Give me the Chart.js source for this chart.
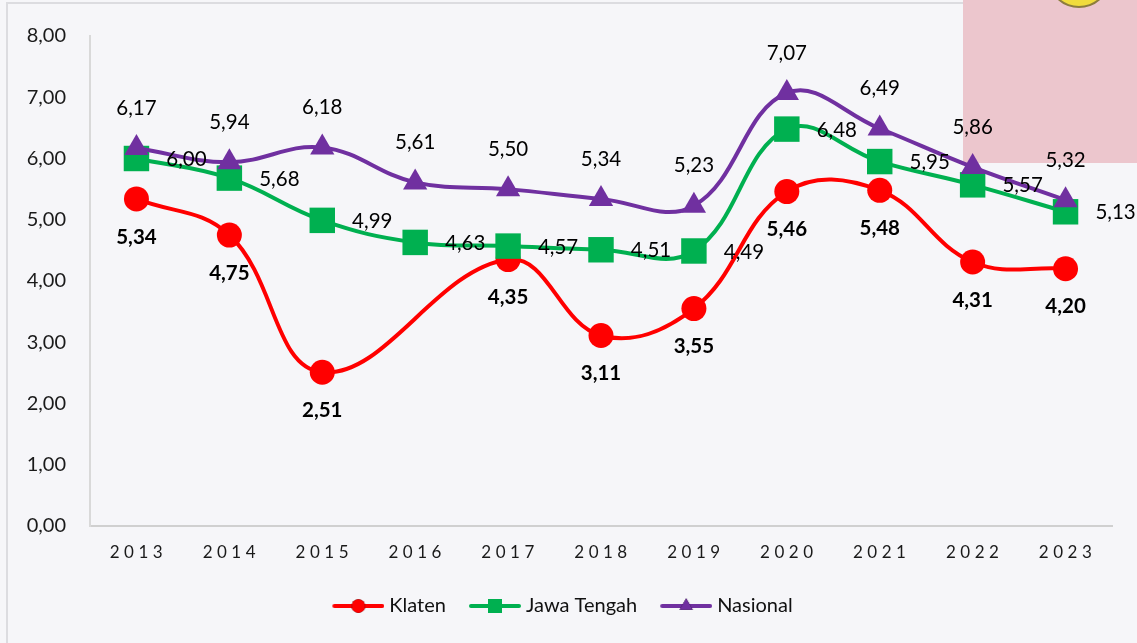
<!DOCTYPE html>
<html>
<head>
<meta charset="utf-8">
<script src="https://cdn.jsdelivr.net/npm/chart.js@4.4.1/dist/chart.umd.min.js"></script>
<style>
  html, body { margin: 0; padding: 0; background: #f6f6f9; }
  #wrap { position: relative; width: 1137px; height: 643px; overflow: hidden; }
  #frame { position: absolute; left: 6px; top: 2px; width: 1140px; height: 650px; border: 2px solid #dcdce0; }
  #pink { position: absolute; left: 963px; top: 0; width: 174px; height: 163px; background: #ecc6cd; }
  #emblem { position: absolute; left: 1050px; top: -44px; width: 54px; height: 48px; border-radius: 50%;
            background: #f0dc3c; border: 2px solid #8c7d3c; }
  canvas { position: absolute; left: 0; top: 0; }
</style>
</head>
<body>
<div id="wrap">
  <div id="frame"></div>
  <div id="pink"></div>
  <div id="emblem"></div>
  <canvas id="chart" width="1137" height="643"></canvas>
</div>
<script>
// data
const years = ['2013', '2014', '2015', '2016', '2017', '2018', '2019', '2020', '2021', '2022', '2023'];
const klaten = [5.34, 4.75, 2.51, null, 4.35, 3.11, 3.55, 5.46, 5.48, 4.31, 4.20];
const jawaTengah = [6.00, 5.68, 4.99, 4.63, 4.57, 4.51, 4.49, 6.48, 5.95, 5.57, 5.13];
const nasional = [6.17, 5.94, 6.18, 5.61, 5.50, 5.34, 5.23, 7.07, 6.49, 5.86, 5.32];
const yTicks = [0, 1, 2, 3, 4, 5, 6, 7, 8];

const FONT = 'Lato, "Noto Sans", sans-serif';
const fmt = v => v.toFixed(2).replace('.', ',');

// where each series puts its value labels
const labelStyle = [
  { dx: 0, dy: 38, weight: 'bold' },
  { dx: 50, dy: 1, weight: 'normal' },
  { dx: 0, dy: -40, weight: 'normal' }
];

const valueLabels = {
  id: 'valueLabels',
  afterDatasetsDraw(chart) {
    const ctx = chart.ctx;
    chart.data.datasets.forEach((ds, i) => {
      const meta = chart.getDatasetMeta(i);
      if (meta.hidden) return;
      const st = labelStyle[i];
      ctx.save();
      ctx.font = st.weight + ' 20.5px ' + FONT;
      ctx.fillStyle = '#000';
      ctx.textAlign = 'center';
      ctx.textBaseline = 'middle';
      meta.data.forEach((pt, j) => {
        const v = ds.data[j];
        if (v == null) return;
        ctx.fillText(fmt(v), pt.x + st.dx, pt.y + st.dy);
      });
      ctx.restore();
    });
  }
};

// spaced year labels under the x axis
const spacedYears = {
  id: 'spacedYears',
  afterDraw(chart) {
    const x = chart.scales.x;
    const ctx = chart.ctx;
    ctx.save();
    ctx.font = '17px ' + FONT;
    ctx.fillStyle = '#1a1a1a';
    ctx.textAlign = 'center';
    ctx.textBaseline = 'middle';
    ctx.letterSpacing = '4.5px';
    years.forEach((y, i) => {
      ctx.fillText(y, x.getPixelForTick(i) + 2, x.top + 27);
    });
    ctx.restore();
  }
};

function legendIcon(color, style, radius) {
  const c = document.createElement('canvas');
  c.width = 70; c.height = 30;
  const g = c.getContext('2d');
  g.strokeStyle = color;
  g.lineWidth = 4;
  g.lineCap = 'round';
  g.beginPath(); g.moveTo(20, 15); g.lineTo(68, 15); g.stroke();
  Chart.helpers.drawPoint(g, { pointStyle: style, radius: radius, borderWidth: 0 }, 44, 15);
  g.fillStyle = color;
  g.fill();
  return c;
}

const colors = ['#ff0000', '#00b050', '#7030a0'];
const styles = ['circle', 'rect', 'triangle'];

new Chart(document.getElementById('chart'), {
  type: 'line',
  data: {
    labels: years,
    datasets: [
      { label: 'Klaten', data: klaten, borderColor: colors[0], backgroundColor: colors[0],
        pointStyle: 'circle', pointRadius: 12.5, order: 3 },
      { label: 'Jawa Tengah', data: jawaTengah, borderColor: colors[1], backgroundColor: colors[1],
        pointStyle: 'rect', pointRadius: 18, order: 2 },
      { label: 'Nasional', data: nasional, borderColor: colors[2], backgroundColor: colors[2],
        pointStyle: 'triangle', pointRadius: 14, order: 1 }
    ]
  },
  options: {
    responsive: false,
    animation: false,
    spanGaps: true,
    layout: { padding: { top: 28, left: 0, right: 25, bottom: 17 } },
    elements: {
      line: { borderWidth: 4, tension: 0.4 },
      point: { borderWidth: 0, hoverRadius: 14 }
    },
    scales: {
      x: {
        offset: true,
        grid: { display: false, drawTicks: false },
        border: { color: '#d0d0d0', width: 2 },
        ticks: { color: 'rgba(0,0,0,0)', font: { size: 16, family: FONT } },
        afterFit: s => { s.height = 60; }
      },
      y: {
        min: 0, max: 8,
        afterBuildTicks: s => { s.ticks = yTicks.map(v => ({ value: v })); },
        grid: { display: false, drawTicks: false },
        border: { color: '#d9d9d9', width: 2 },
        ticks: { padding: 24, color: '#1a1a1a', font: { size: 20, family: FONT }, callback: v => fmt(v) },
        afterFit: s => { s.width = 90; }
      }
    },
    plugins: {
      tooltip: { enabled: false },
      legend: {
        position: 'bottom',
        labels: {
          usePointStyle: true,
          pointStyleWidth: 60,
          padding: 10,
          color: '#111',
          font: { size: 20, family: FONT },
          generateLabels: chart => chart.data.datasets.map((ds, i) => ({
            text: ds.label,
            fillStyle: colors[i],
            strokeStyle: colors[i],
            lineWidth: 0,
            fontColor: '#111',
            pointStyle: legendIcon(colors[i], styles[i], ds.pointRadius * 0.55),
            hidden: !chart.isDatasetVisible(i),
            datasetIndex: i
          }))
        }
      }
    }
  },
  plugins: [valueLabels, spacedYears]
});
</script>
</body>
</html>
